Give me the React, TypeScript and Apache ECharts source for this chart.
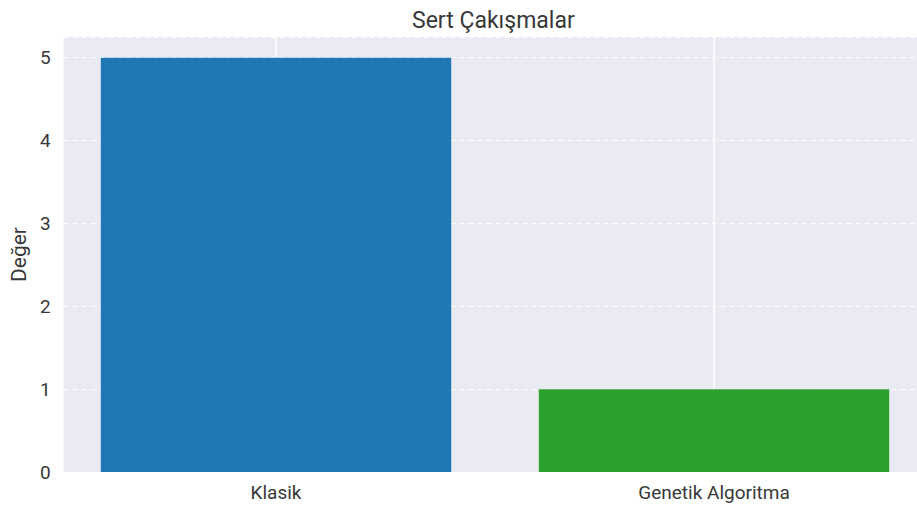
import React, { useEffect, useRef } from "react";
import * as echarts from "echarts";

const categories = ["Klasik", "Genetik Algoritma"];
const values = [5, 1];
const barColors = ["#1f77b4", "#2ca02c"];
const title = "Sert Çakışmalar";
const yName = "Değer";
const yMax = 5.25;
const yInterval = 1;

export default function App() {
  const ref = useRef<HTMLDivElement>(null);
  useEffect(() => {
    if (!ref.current) return;
    const chart = echarts.init(ref.current, null, { renderer: "svg" });
    const font = "Roboto, Liberation Sans, Arial, sans-serif";
    chart.setOption({
      animation: false,
      textStyle: { fontFamily: font },
      title: {
        text: title,
        left: 407,
        top: 4,
        textStyle: { fontFamily: font, fontSize: 23, fontWeight: "normal", color: "#383838" },
      },
      grid: [
        {
          left: 62,
          width: 867,
          top: 37,
          bottom: 37,
          show: true,
          backgroundColor: "#EAEAF2",
          borderWidth: 0,
        },
        { left: 276, width: 438, top: 37, bottom: 37, show: false },
      ],
      xAxis: [
        { gridIndex: 0, type: "value", min: -0.49, max: 1.49, show: false },
        {
          gridIndex: 1,
          type: "category",
          data: categories,
          boundaryGap: false,
          axisLine: { show: false },
          axisTick: { show: false },
          axisLabel: { color: "#383838", fontSize: 19, margin: 11, fontFamily: font },
          splitLine: { show: true, lineStyle: { color: "#ffffff", width: 1.5, type: "solid" } },
        },
      ],
      yAxis: [
        {
          gridIndex: 0,
          type: "value",
          min: 0,
          max: yMax,
          interval: yInterval,
          name: yName,
          nameLocation: "middle",
          nameGap: 34,
          nameTextStyle: { color: "#383838", fontSize: 21, fontFamily: font },
          axisLine: { show: false },
          axisTick: { show: false },
          axisLabel: {
            color: "#383838",
            fontSize: 19,
            margin: 13,
            fontFamily: font,
            showMaxLabel: false,
            formatter: (v: number) => (Number.isInteger(v) ? String(v) : ""),
          },
          splitLine: { show: true, lineStyle: { color: "#ffffff", width: 1, type: [5, 4] } },
        },
        { gridIndex: 1, type: "value", min: 0, max: yMax, show: false },
      ],
      series: [
        {
          type: "bar",
          xAxisIndex: 1,
          yAxisIndex: 1,
          barWidth: "80%",
          clip: false,
          data: values.map((v, i) => ({ value: v, itemStyle: { color: barColors[i] } })),
        },
      ],
    });
    return () => chart.dispose();
  }, []);
  return <div ref={ref} style={{ width: 917, height: 509, position: "absolute", left: 0, top: 0 }} />;
}
